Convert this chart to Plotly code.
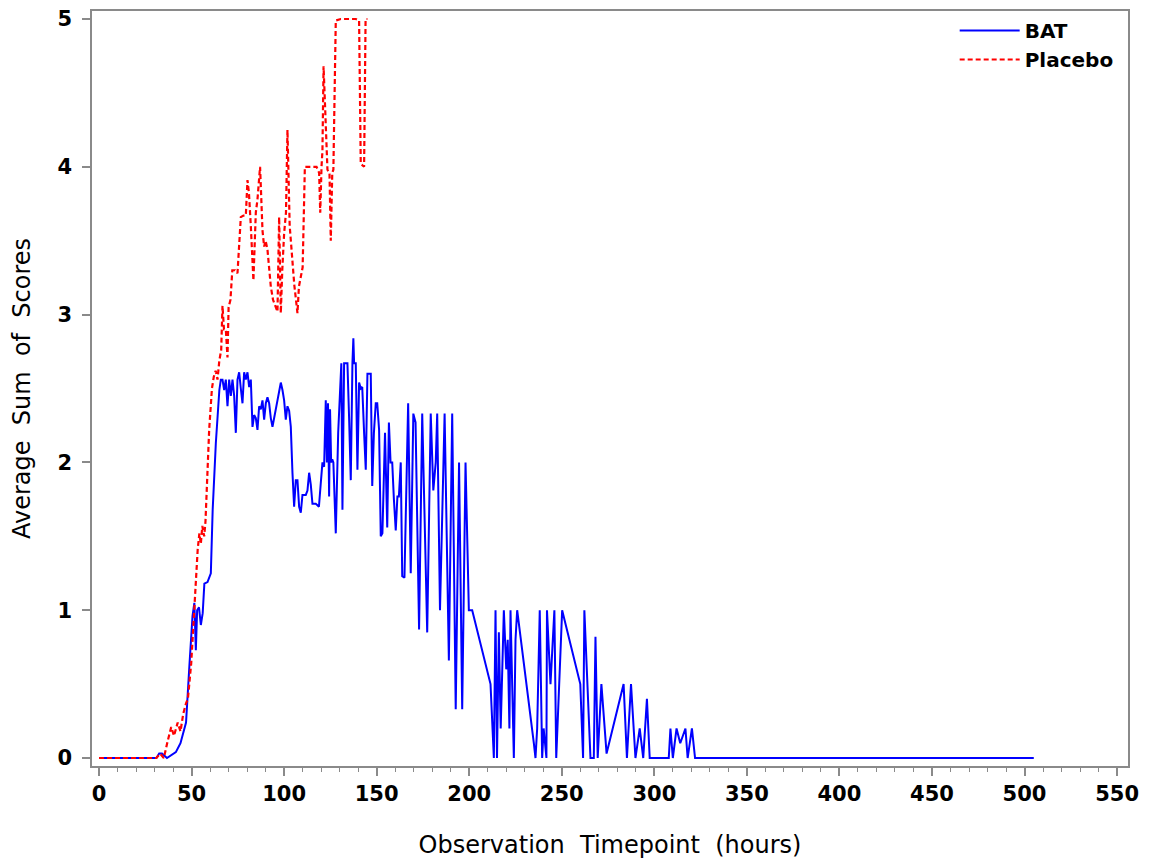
import plotly.graph_objects as go

# BAT (blue, solid)
bat_hours = [0, 31, 32.5, 34, 36.7, 39, 41.5, 44, 47, 48.8, 50.5, 51.5, 52.3, 53, 54, 55, 56, 56.9, 58.6, 60.4,
             61.4, 63.1, 65, 65.8, 66.7, 67.6, 68.5, 69.4, 70.3, 71.2, 72.1, 73, 73.9, 74.8, 75.7, 76.6, 77.5,
             78.4, 79.3, 80.2, 81.1, 82, 82.9, 83.8, 84.7, 85.6, 86.5, 87.4, 88.3, 89.2, 90.1, 91, 91.9, 92.8,
             93.7, 94.6, 95.5, 96.4, 97.3, 98.2, 99.1, 100, 100.9, 101.8, 102.7, 103.6, 104.5, 105.4, 106.3,
             107.2, 108.1, 109, 109.9, 110.8, 111.7, 112.6, 113.5, 114.4, 115.3, 116.2, 117.1, 118, 118.8,
             119.8, 120.7, 121.6, 122.5, 123.1, 123.7, 124.3, 124.8, 125.4, 126, 126.6, 127.9, 129.2, 130.2,
             130.9, 131.5, 132.4, 133.3, 134.2, 135.1, 136, 136.9, 137.4, 137.8, 138.7, 139.6, 140.5, 141.4,
             142.2, 143.2, 144.1, 145, 146.8, 147.6, 148.5, 149.5, 150.3, 151.3, 152.2, 153.1, 154.5, 155.7,
             156.6, 157.5, 158.4, 159.3, 160.3, 161.2, 162, 163, 163.8, 165, 167, 168.4, 169.8, 171, 172.9,
             174.6, 177.3, 179.2, 180.6, 181.9, 182.7, 184.2, 186.7, 189, 190.8, 192.7, 194.5, 196.2, 198,
             199.8, 201.6, 211.5, 213.3, 214.2, 215, 216, 217, 218.7, 220, 220.8, 221.7, 222.3, 224.1, 225,
             225.9, 234.9, 235.8, 236.7, 238.1, 239.4, 240.2, 241.7, 242, 243.9, 246, 247, 250.2, 260, 261.5,
             262.2, 265.5, 267.3, 268.2, 269.4, 271.4, 274.2, 283.4, 285.2, 287.4, 289.8, 292.1, 294, 296,
             297.5, 307.8, 308.7, 310, 312, 314, 316.8, 318, 320.3, 322, 505]
bat_scores = [0, 0, 0.03, 0.03, 0, 0.02, 0.04, 0.1, 0.24, 0.62, 0.96, 1.05, 0.73, 1.0, 1.02, 0.9, 0.98, 1.18, 1.19, 1.25,
              1.68, 2.13, 2.49, 2.56, 2.56, 2.49, 2.56, 2.38, 2.56, 2.45, 2.56, 2.45, 2.2, 2.56, 2.61, 2.5, 2.4,
              2.61, 2.56, 2.61, 2.51, 2.56, 2.24, 2.32, 2.3, 2.22, 2.38, 2.36, 2.42, 2.29, 2.4, 2.44, 2.4, 2.3,
              2.24, 2.3, 2.35, 2.42, 2.48, 2.54, 2.49, 2.42, 2.29, 2.38, 2.35, 2.24, 1.93, 1.7, 1.88,
              1.88, 1.7, 1.66, 1.78, 1.78, 1.78, 1.81, 1.93, 1.85, 1.72, 1.72, 1.72, 1.71, 1.7,
              1.86, 2.0, 1.97, 2.42, 2.0, 2.4, 1.77, 2.36, 2.0, 2.02, 2.0, 1.52, 2.2, 2.51,
              2.67, 1.68, 2.67, 2.67, 2.67, 2.3, 1.88, 2.67, 2.84, 2.67, 2.67, 1.95, 2.54, 2.5,
              2.51, 2.2, 1.95, 2.6, 2.6, 1.84, 2.2, 2.4, 2.4, 2.22, 1.5, 1.52, 2.2, 1.56,
              2.27, 2.0, 2.0, 1.75, 1.54, 1.77, 1.77, 2.0, 1.23, 1.22, 2.4, 1.25, 2.33, 2.27, 0.87,
              2.33, 0.85, 2.33, 1.81, 2.0, 2.33, 1.0, 2.33, 0.66, 2.33, 0.33, 2.0, 0.33, 2.0,
              1.0, 1.0, 0.5, 0, 1.0, 0, 0.85, 0.2, 1.0, 0.6, 0.8, 0.2, 1.0, 0, 0.8,
              1.0, 0.1, 0, 0.2, 1.0, 0, 0.2, 0, 1.0, 0.5, 1.0, 0, 1.0, 0.5, 0,
              1.0, 0, 0, 0.82, 0, 0.5, 0.03, 0.5, 0, 0.5, 0, 0.2, 0, 0.4,
              0, 0, 0.2, 0, 0.2, 0.1, 0.2, 0, 0.2, 0, 0]

# Placebo (red, dashed)
pbo_hours = [0, 31, 33, 35, 37, 39, 40.5, 42.5, 44, 45.5, 47, 48, 49.8, 51.5, 52.3, 53.3, 54.2, 55, 55.8, 56.8,
             57.5, 59.5, 61, 62, 63, 64, 65, 66, 66.7, 67.5, 68.5, 69.4, 70, 71, 72, 73.5, 74.8, 76.6, 78,
             79.3, 80.2, 81, 82, 83.4, 84.7, 85.6, 87, 88.3, 89.2, 90, 91, 92, 92.8, 94, 95.5, 96.4, 97.3,
             98.2, 99, 100, 101, 101.8, 103, 104.5, 105.5, 107.2, 108, 110, 111.2, 116.2, 117.5, 118.9, 119.5,
             120.2, 120.7, 121.3, 122, 122.5, 123.4, 124.5, 125.2, 126, 126.6, 127.9, 130.6, 138.7, 140.5,
             141.4, 143.2, 144, 145]
pbo_scores = [0, 0, 0.03, 0, 0.11, 0.21, 0.15, 0.24, 0.18, 0.3, 0.37, 0.4, 0.64, 1.05, 1.23, 1.41, 1.52, 1.45, 1.57, 1.5,
              1.6, 2.22, 2.5, 2.58, 2.62, 2.56, 2.69, 2.76, 3.06, 2.9, 2.9, 2.71, 3.05, 3.1, 3.3, 3.3, 3.28, 3.66, 3.67,
              3.67, 3.91, 3.82, 3.6, 3.23, 3.69, 3.78, 4.0, 3.57, 3.46, 3.5, 3.44, 3.3, 3.19, 3.1, 3.05, 3.02, 3.66,
              3.01, 3.3, 3.55, 3.69, 4.25, 3.6, 3.35, 3.2, 3.01, 3.19, 3.32, 4.0, 4.0, 4.0, 3.96, 3.69,
              4.0, 4.11, 4.68, 4.4, 4.18, 3.98, 3.96, 3.5, 3.96, 3.98, 4.99, 5.0, 5.0, 4.99,
              4.02, 4.0, 5.0, 5.0]

x_ticks = [0, 50, 100, 150, 200, 250, 300, 350, 400, 450, 500, 550]
y_ticks = [0, 1, 2, 3, 4, 5]

FONT = "DejaVu Sans, Liberation Sans, sans-serif"

fig = go.Figure()
fig.add_trace(go.Scatter(x=bat_hours, y=bat_scores, mode="lines", name="BAT",
                         line=dict(color="#0000FF", width=2)))
fig.add_trace(go.Scatter(x=pbo_hours, y=pbo_scores, mode="lines", name="Placebo",
                         line=dict(color="#FF0000", width=2.2, dash="5px,3px")))

axis_common = dict(showline=True, linecolor="#8a8a8a", linewidth=1.5, mirror=True,
                   showgrid=False, zeroline=False, ticks="outside", tickcolor="#8a8a8a",
                   tickwidth=1.5, ticklen=8, automargin=False, ticklabeloverflow="allow")

fig.update_xaxes(range=[-3.8, 555.9], tickvals=x_ticks, ticktext=[str(v) for v in x_ticks],
                 tickfont=dict(family=FONT, size=21, color="black", weight="bold"),
                 minor=dict(dtick=10, tick0=0, ticks="outside", ticklen=4, tickcolor="#8a8a8a", tickwidth=1.2),
                 title=dict(text="Observation  Timepoint  (hours)", standoff=31,
                            font=dict(family=FONT, size=24, color="black")),
                 **axis_common)
fig.update_yaxes(range=[-0.054, 5.054], tickvals=y_ticks, ticktext=[str(v) for v in y_ticks],
                 tickfont=dict(family=FONT, size=21, color="black", weight="bold"),
                 ticklabelstandoff=6,
                 title=dict(text="Average  Sum  of  Scores", standoff=20,
                            font=dict(family=FONT, size=24, color="black")),
                 **axis_common)

fig.update_layout(
    width=1149, height=851,
    margin=dict(l=84, r=29, t=3, b=93, autoexpand=False),
    plot_bgcolor="white", paper_bgcolor="white",
    showlegend=True,
    legend=dict(x=0.991, y=1.0, xanchor="right", yanchor="top",
                bgcolor="rgba(255,255,255,0)", borderwidth=0,
                font=dict(family=FONT, size=20, color="black", weight="bold"),
                itemwidth=60),
)

fig.write_html("out.html")
